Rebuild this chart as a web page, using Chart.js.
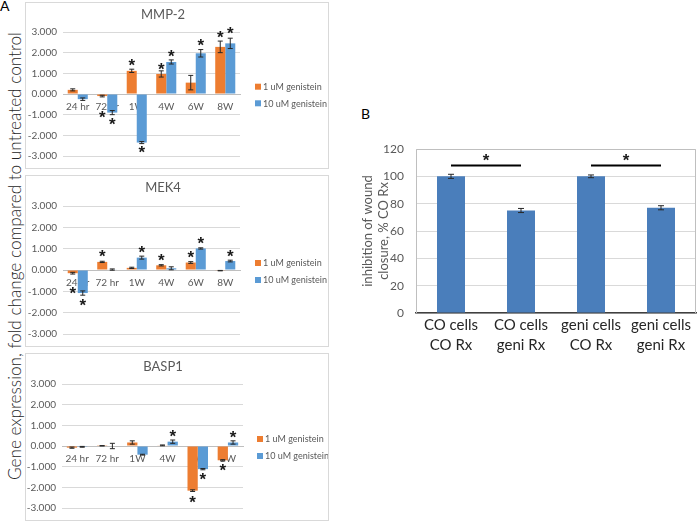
<!DOCTYPE html>
<html><head><meta charset="utf-8">
<script src="https://cdn.jsdelivr.net/npm/chart.js@4"></script>
<style>
html,body{margin:0;padding:0;background:#fff;}
body{width:700px;height:521px;position:relative;overflow:hidden;font-family:Lato,'Open Sans',sans-serif;}
.panel{position:absolute;border:1px solid #d9d9d9;box-sizing:border-box;background:#fff;}
.panel canvas{position:absolute;left:0;top:0;}
.lbl{position:absolute;white-space:nowrap;color:#000;line-height:1;}
#bigY{position:absolute;white-space:nowrap;color:#262626;font-weight:300;text-align:center;width:520px;line-height:20px;transform:rotate(-90deg);transform-origin:50% 50%;}
</style></head><body>
<div class="lbl" style="left:0px;top:-1px;font-size:14px;">A</div>
<div class="lbl" style="left:361px;top:107px;font-size:14px;">B</div>
<div id="bigY">Gene expression, fold change compared to untreated control</div>
<div class="panel" style="left:25px;top:2px;width:304px;height:167px;"><canvas id="c1" width="302" height="165"></canvas></div>
<div class="panel" style="left:25px;top:175px;width:304px;height:172px;"><canvas id="c2" width="302" height="170"></canvas></div>
<div class="panel" style="left:25px;top:353px;width:304px;height:168px;"><canvas id="c3" width="302" height="166"></canvas></div>
<canvas id="c4" width="360" height="240" style="position:absolute;left:340px;top:120px;"></canvas>
<script>
// ---------- DATA ----------
const categories = ['24 hr', '72 hr', '1W', '4W', '6W', '8W'];
const seriesNames = ['1 uM genistein', '10 uM genistein'];
const yTicksA = [-3, -2, -1, 0, 1, 2, 3];

const mmp2_1uM      = [0.20, -0.10, 1.12, 0.97, 0.55, 2.28];
const mmp2_10uM     = [-0.25, -0.90, -2.35, 1.55, 1.97, 2.45];
const mmp2_1uM_err  = [0.05, 0.04, 0.08, 0.15, 0.35, 0.28];
const mmp2_10uM_err = [0.06, 0.10, 0.05, 0.10, 0.18, 0.25];
const mmp2_1uM_star  = [null, -1.00, 1.52, 1.35, null, 2.89];
const mmp2_10uM_star = [null, -1.33, -2.70, 1.98, 2.49, 3.05];

const mek4_1uM      = [-0.15, 0.38, 0.10, 0.22, 0.35, -0.03];
const mek4_10uM     = [-1.08, 0.02, 0.58, 0.08, 1.01, 0.42];
const mek4_1uM_err  = [0.04, 0.03, 0.03, 0.03, 0.04, 0.01];
const mek4_10uM_err = [0.10, 0.03, 0.07, 0.07, 0.03, 0.04];
const mek4_1uM_star  = [-0.97, 0.77, null, 0.57, 0.72, null];
const mek4_10uM_star = [-1.53, null, 0.95, null, 1.37, 0.76];

const basp1_1uM      = [-0.08, 0.01, 0.17, 0.03, -2.16, -0.69];
const basp1_10uM     = [-0.04, 0.00, -0.42, 0.21, -1.12, 0.17];
const basp1_1uM_err  = [0.03, 0.01, 0.08, 0.02, 0.04, 0.03];
const basp1_10uM_err = [0.02, 0.13, 0.02, 0.08, 0.03, 0.08];
const basp1_1uM_star  = [null, null, null, null, -2.60, -1.06];
const basp1_10uM_star = [null, null, null, 0.62, -1.49, 0.57];

const woundCategories = [['CO cells', 'CO Rx'], ['CO cells', 'geni Rx'], ['geni cells', 'CO Rx'], ['geni cells', 'geni Rx']];
const woundValues = [100, 75, 100, 77];
const woundErr = [1.5, 1.5, 1.0, 1.5];
const woundSigPairs = [[0, 1], [2, 3]];
const woundSigLine = 108;
const woundSigStar = 114;
const yTicksB = [0, 20, 40, 60, 80, 100, 120];

// ---------- helpers ----------
const FONT = 'Lato';
function drawStar(ctx, x, y, size) {
  ctx.save();
  ctx.font = 'bold ' + size + 'px "Liberation Sans"';
  ctx.fillStyle = '#1a1a1a';
  ctx.textAlign = 'center';
  ctx.textBaseline = 'alphabetic';
  const m = ctx.measureText('*');
  const off = (m.actualBoundingBoxAscent - m.actualBoundingBoxDescent) / 2;
  ctx.fillText('*', x, y + off);
  ctx.restore();
}
const errStarPlugin = {
  id: 'errStar',
  afterDatasetsDraw(chart, args, opts) {
    const ctx = chart.ctx, ys = chart.scales.y;
    chart.data.datasets.forEach((ds, di) => {
      const meta = chart.getDatasetMeta(di);
      meta.data.forEach((bar, i) => {
        const v = ds.data[i];
        const e = ds.errors ? ds.errors[i] : 0;
        if (e) {
          const y1 = ys.getPixelForValue(v + e), y2 = ys.getPixelForValue(v - e);
          const cw = opts.cap;
          ctx.save();
          ctx.strokeStyle = '#262626';
          ctx.lineWidth = 1;
          ctx.beginPath();
          ctx.moveTo(bar.x, y1); ctx.lineTo(bar.x, y2);
          ctx.moveTo(bar.x - cw, y1); ctx.lineTo(bar.x + cw, y1);
          ctx.moveTo(bar.x - cw, y2); ctx.lineTo(bar.x + cw, y2);
          ctx.stroke();
          ctx.restore();
        }
        const s = ds.stars ? ds.stars[i] : null;
        if (s !== null && s !== undefined) drawStar(ctx, bar.x, ys.getPixelForValue(s), opts.star);
      });
    });
  }
};
const panelTitlePlugin = {
  id: 'panelTitle',
  afterDraw(chart, args, opts) {
    if (!opts.text) return;
    const ctx = chart.ctx;
    ctx.save();
    ctx.font = opts.size + 'px ' + FONT;
    ctx.fillStyle = '#595959';
    ctx.textAlign = 'center';
    ctx.textBaseline = 'middle';
    ctx.fillText(opts.text, opts.x, opts.y);
    ctx.restore();
  }
};
const panelLegendPlugin = {
  id: 'panelLegend',
  afterDraw(chart, args, opts) {
    if (!opts.ys) return;
    const ctx = chart.ctx;
    ctx.save();
    ctx.font = '9px ' + FONT;
    ctx.textBaseline = 'middle';
    ctx.textAlign = 'left';
    chart.data.datasets.forEach((ds, i) => {
      const y = opts.ys[i];
      ctx.fillStyle = ds.backgroundColor;
      ctx.fillRect(opts.x, y - 3, 6, 6);
      ctx.fillStyle = '#595959';
      ctx.fillText(ds.label, opts.x + 8, y + 0.5);
    });
    ctx.restore();
  }
};

function makePanel(id, title, d1, d2, e1, e2, s1, s2, geo) {
  return new Chart(document.getElementById(id), {
    type: 'bar',
    data: {
      labels: categories,
      datasets: [
        {label: seriesNames[0], data: d1, errors: e1, stars: s1, backgroundColor: '#ED7D31'},
        {label: seriesNames[1], data: d2, errors: e2, stars: s2, backgroundColor: '#5B9BD5'}
      ]
    },
    options: {
      responsive: false, animation: false, devicePixelRatio: 1,
      layout: {padding: {left: 0, top: geo.top, right: geo.right, bottom: geo.bottom}},
      datasets: {bar: {categoryPercentage: 0.68, barPercentage: 1.0}},
      plugins: {
        legend: {display: false}, tooltip: {enabled: false},
        errStar: {cap: 2.5, star: 17},
        panelTitle: {text: title, x: geo.tx, y: geo.ty, size: 13},
        panelLegend: {x: geo.lx, ys: geo.lys}
      },
      scales: {
        x: {
          position: {y: 0},
          grid: {display: false, drawTicks: false},
          border: {display: true, color: '#bfbfbf'},
          ticks: {color: '#595959', font: {family: FONT, size: 10}, padding: 7, maxRotation: 0, autoSkip: false}
        },
        y: {
          min: yTicksA[0], max: yTicksA[yTicksA.length - 1],
          afterBuildTicks: s => { s.ticks = yTicksA.map(v => ({value: v})); },
          afterFit: s => { s.width = geo.yw; },
          grid: {color: '#d9d9d9', drawTicks: false},
          border: {display: false},
          ticks: {color: '#595959', font: {family: FONT, size: 10}, padding: 6, callback: v => v.toFixed(3)}
        }
      }
    },
    plugins: [errStarPlugin, panelTitlePlugin, panelLegendPlugin]
  });
}

function build() {
  // big rotated label
  const big = document.getElementById('bigY');
  const mc = document.createElement('canvas').getContext('2d');
  mc.font = '300 100px ' + FONT;
  const w100 = mc.measureText(big.textContent).width;
  const fs = 100 * 448 / w100;
  big.style.fontSize = fs.toFixed(2) + 'px';
  big.style.left = (15 - 260) + 'px';
  big.style.top = (256 - 10) + 'px';

  makePanel('c1', 'MMP-2', mmp2_1uM, mmp2_10uM, mmp2_1uM_err, mmp2_10uM_err, mmp2_1uM_star, mmp2_10uM_star,
    {top: 29, right: 88, bottom: 10, yw: 37, tx: 137, ty: 12, lx: 229, lys: [83.7, 100.3]});
  makePanel('c2', 'MEK4', mek4_1uM, mek4_10uM, mek4_1uM_err, mek4_10uM_err, mek4_1uM_star, mek4_10uM_star,
    {top: 30, right: 88, bottom: 10, yw: 37, tx: 137, ty: 12, lx: 229, lys: [87, 104]});
  makePanel('c3', 'BASP1', basp1_1uM, basp1_10uM, basp1_1uM_err, basp1_10uM_err, basp1_1uM_star, basp1_10uM_star,
    {top: 30, right: 85, bottom: 10, yw: 36, tx: 137, ty: 13, lx: 231, lys: [85, 102]});

  // Panel B
  const borderPlugin = {
    id: 'plotBorder',
    beforeDatasetsDraw(chart) {
      const {ctx, chartArea: a} = chart;
      ctx.save();
      ctx.strokeStyle = '#bfbfbf'; ctx.lineWidth = 1;
      ctx.beginPath();
      ctx.moveTo(Math.round(a.left) + 0.5, a.bottom); ctx.lineTo(Math.round(a.left) + 0.5, Math.round(a.top) + 0.5);
      ctx.lineTo(Math.round(a.right) - 0.5, Math.round(a.top) + 0.5); ctx.lineTo(Math.round(a.right) - 0.5, a.bottom);
      ctx.stroke();
      ctx.restore();
    }
  };
  const sigPlugin = {
    id: 'sigBars',
    afterDatasetsDraw(chart, args, opts) {
      const ctx = chart.ctx, xs = chart.scales.x, ys = chart.scales.y;
      opts.pairs.forEach(([a, b]) => {
        const x1 = xs.getPixelForValue(a), x2 = xs.getPixelForValue(b);
        const y = ys.getPixelForValue(opts.line);
        ctx.save();
        ctx.strokeStyle = '#000'; ctx.lineWidth = 2;
        ctx.beginPath(); ctx.moveTo(x1, y); ctx.lineTo(x2, y); ctx.stroke();
        ctx.restore();
        drawStar(ctx, (x1 + x2) / 2, ys.getPixelForValue(opts.star), 17);
      });
    }
  };
  new Chart(document.getElementById('c4'), {
    type: 'bar',
    data: {
      labels: woundCategories,
      datasets: [{label: 'wound', data: woundValues, errors: woundErr, stars: [null, null, null, null], backgroundColor: '#4A7EBB'}]
    },
    options: {
      responsive: false, animation: false, devicePixelRatio: 1,
      layout: {padding: {left: 0, top: 29, right: 4, bottom: 0}},
      datasets: {bar: {categoryPercentage: 1.0, barPercentage: 0.4}},
      plugins: {
        legend: {display: false}, tooltip: {enabled: false},
        errStar: {cap: 3, star: 16},
        sigBars: {pairs: woundSigPairs, line: woundSigLine, star: woundSigStar}
      },
      scales: {
        x: {
          grid: {display: false, drawTicks: false},
          border: {display: true, color: '#404040', width: 1.5},
          afterFit: s => { s.height = 47; },
          ticks: {color: '#262626', font: {family: FONT, size: 15, lineHeight: 1.33}, padding: 2, maxRotation: 0, autoSkip: false}
        },
        y: {
          min: 0, max: 120,
          afterBuildTicks: s => { s.ticks = yTicksB.map(v => ({value: v})); },
          afterFit: s => { s.width = 76; },
          grid: {color: '#d9d9d9', drawTicks: false},
          border: {display: false},
          ticks: {color: '#595959', font: {family: FONT, size: 12}, padding: 12},
          title: {display: true, text: ['inhibition of wound', 'closure, % CO Rx'], color: '#595959',
                  font: {family: FONT, size: 13}, padding: {top: 20.5, bottom: 0}}
        }
      }
    },
    plugins: [borderPlugin, errStarPlugin, sigPlugin]
  });
}
if (document.fonts && document.fonts.load) {
  Promise.all([document.fonts.load('10px Lato'), document.fonts.load('300 16px Lato'), document.fonts.load('bold 15px "Liberation Sans"')]).then(build, build);
} else build();
</script>
</body></html>
